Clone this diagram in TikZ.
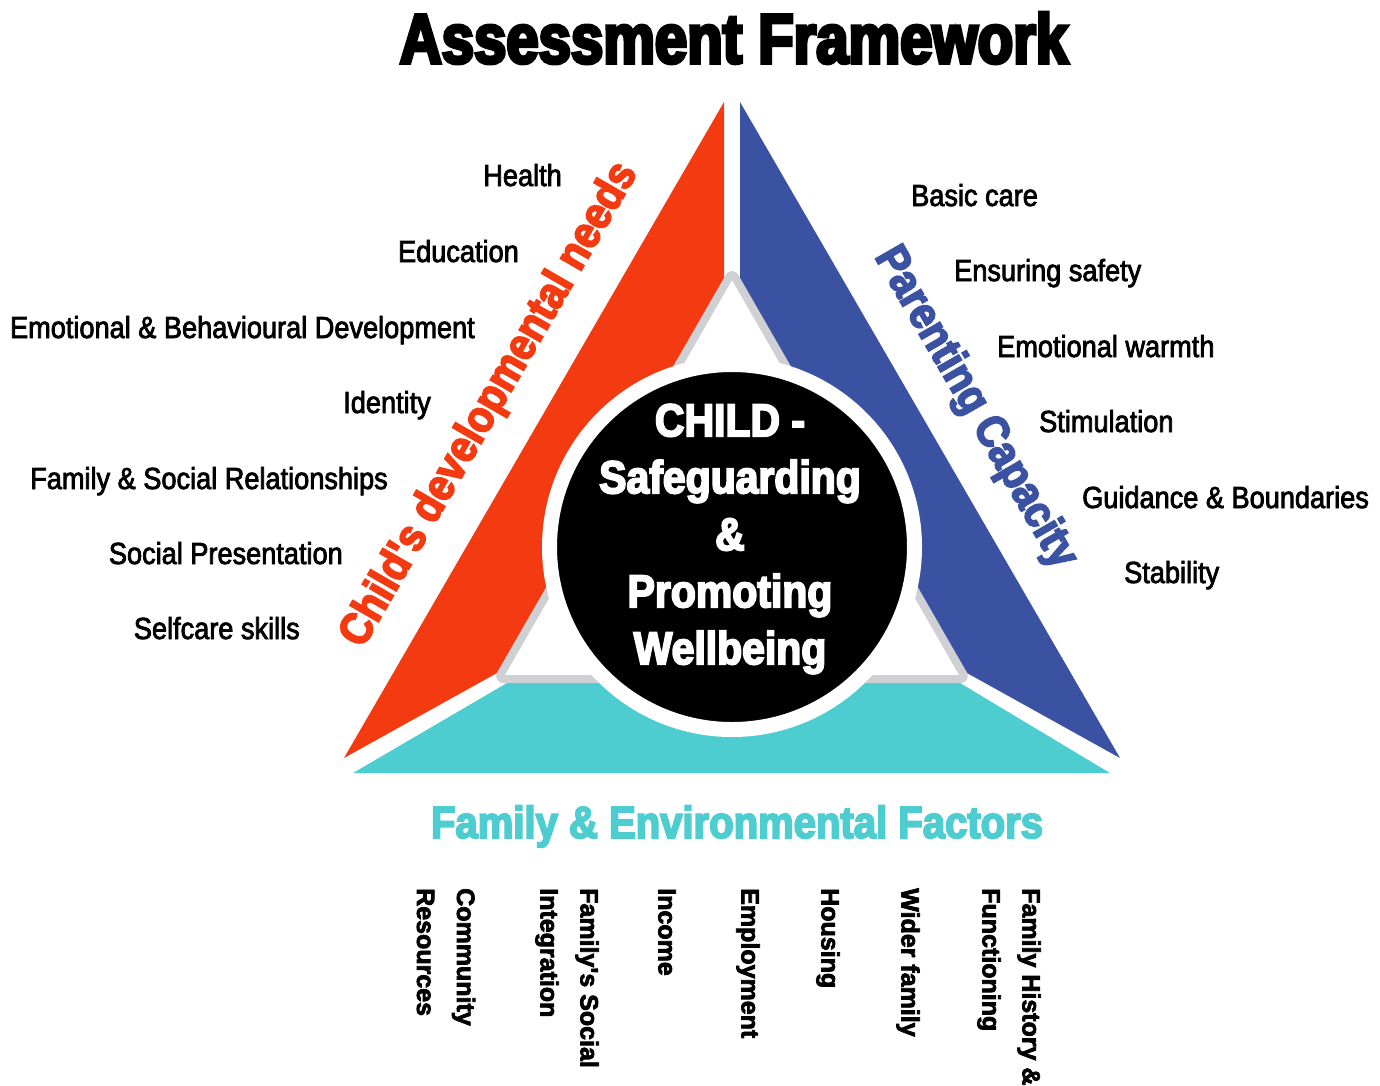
\documentclass[tikz,border=0pt]{standalone}
\usepackage{fontspec}
\setmainfont{Liberation Sans}
\newfontfamily\headfont[FakeStretch=0.89,FakeBold=4]{Liberation Sans}
\newfontfamily\itemfont[FakeStretch=0.89,FakeBold=2.5]{Liberation Sans}
\newfontfamily\factorfont[FakeBold=3]{Liberation Sans}
\newfontfamily\titlefont[FakeStretch=0.83,FakeBold=5]{Liberation Sans}
\definecolor{needsred}{RGB}{244,58,16}
\definecolor{parentblue}{RGB}{59,82,163}
\definecolor{envteal}{RGB}{77,205,208}
\definecolor{innergray}{RGB}{206,208,211}

\tikzset{
  leftitem/.style={anchor=base east, inner sep=0pt, font=\itemfont\fontsize{30.5}{36}\selectfont},
  rightitem/.style={anchor=base west, inner sep=0pt, font=\itemfont\fontsize{30.5}{36}\selectfont},
  bottomitem/.style={anchor=west, rotate=-90, align=left, inner sep=0pt, font=\factorfont\bfseries\fontsize{25}{40}\selectfont},
  sidetitle/.style={inner sep=0pt, font=\headfont\bfseries\fontsize{45}{50}\selectfont}
}

\begin{document}
\begin{tikzpicture}[x=1pt,y=-1pt]
\useasboundingbox (0,0) rectangle (1380,1085);
\node[anchor=base, inner sep=0pt, font=\titlefont\bfseries\fontsize{70}{80}\selectfont] (title) at (734,63) {Assessment Framework};

% the three sides
\fill[needsred] (724,102) -- (724,286) -- (497,673) -- (344,758) -- cycle;
\fill[parentblue] (740,102) -- (740,286) -- (967,673) -- (1120,758) -- cycle;
\fill[envteal] (353,773) -- (507,683) -- (960,683) -- (1110,773) -- cycle;
\draw[innergray, line width=8pt, fill=white, rounded corners=6pt] (732,272) -- (966,679) -- (498,679) -- cycle;

% centre
\node[circle, fill=black, draw=white, line width=15pt, minimum size=365pt] (child) at (732,547) {};
\node[align=center, inner sep=0pt, text=white, font=\headfont\bfseries\fontsize{46}{57}\selectfont] (childtext) at (730,539) {CHILD -\\Safeguarding\\\&\\Promoting\\Wellbeing};

\node[sidetitle, text=needsred, rotate=60] (needs) at (490,405) {Child's developmental needs};
\node[sidetitle, text=parentblue, rotate=-60] (parenting) at (975,408) {Parenting Capacity};
\node[anchor=base, inner sep=0pt, text=envteal, font=\headfont\bfseries\fontsize{45}{50}\selectfont] (env) at (737,838) {Family \& Environmental Factors};

\node[leftitem] (health) at (562,186) {Health};
\node[leftitem] (education) at (519,262) {Education};
\node[leftitem] (emotional) at (475,338) {Emotional \& Behavioural Development};
\node[leftitem] (identity) at (431,413) {Identity};
\node[leftitem] (relations) at (388,489) {Family \& Social Relationships};
\node[leftitem] (presentation) at (343,564) {Social Presentation};
\node[leftitem] (selfcare) at (300,639) {Selfcare skills};

\node[rightitem] (basic) at (911,206) {Basic care};
\node[rightitem] (safety) at (954,281) {Ensuring safety};
\node[rightitem] (warmth) at (997,357) {Emotional warmth};
\node[rightitem] (stimulation) at (1039,432) {Stimulation};
\node[rightitem] (guidance) at (1082,508) {Guidance \& Boundaries};
\node[rightitem] (stability) at (1124,583) {Stability};

\node[bottomitem] (community) at (446,888) {Community\\Resources};
\node[bottomitem] (integration) at (567,888) {Family's Social\\Integration};
\node[bottomitem] (income) at (667,888) {Income};
\node[bottomitem] (employment) at (748,888) {Employment};
\node[bottomitem] (housing) at (828,888) {Housing};
\node[bottomitem] (wider) at (908,888) {Wider family};
\node[bottomitem] (history) at (1009,888) {Family History \&\\Functioning};
\end{tikzpicture}
\end{document}
